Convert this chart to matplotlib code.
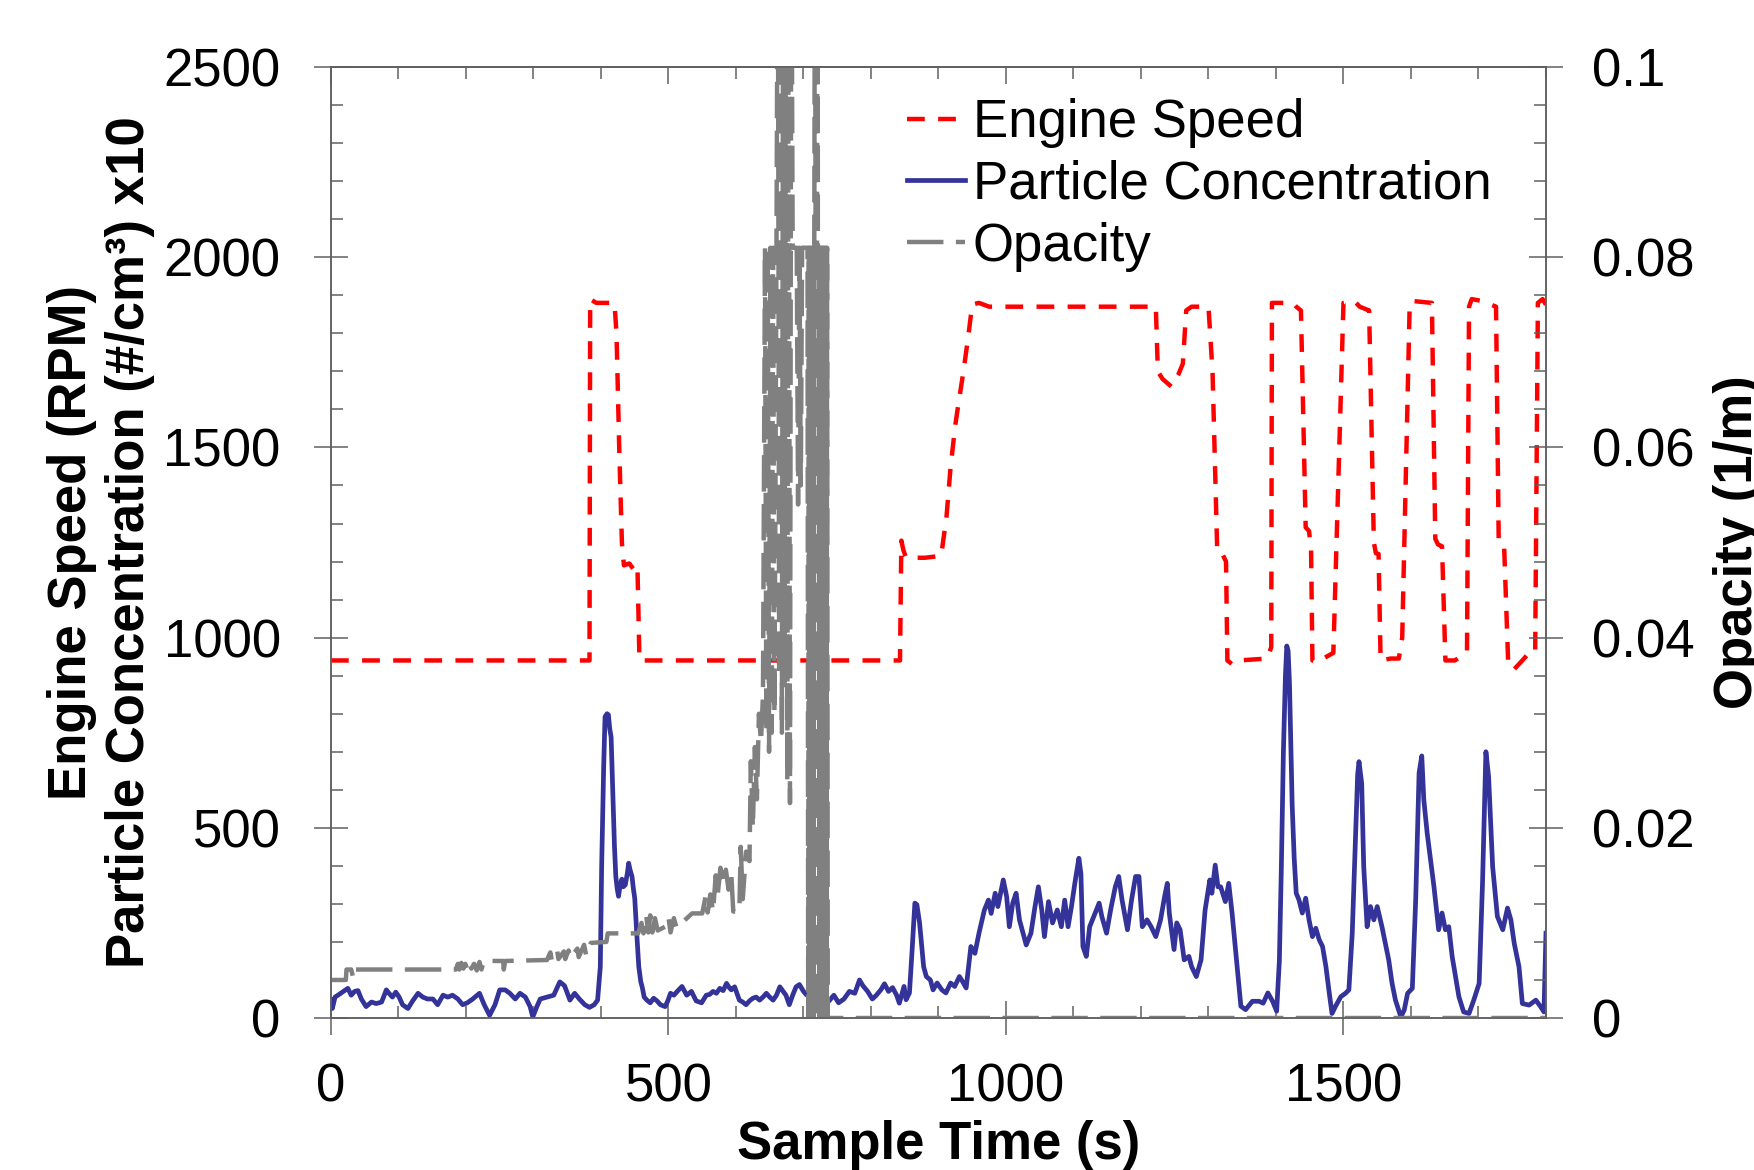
import matplotlib
matplotlib.use("Agg")
import matplotlib.pyplot as plt
from matplotlib.ticker import MultipleLocator, FuncFormatter

plt.rcParams['font.family'] = ['Liberation Sans', 'DejaVu Sans']
plt.rcParams['font.size'] = 38

# Engine speed (RPM)
rpm_t = [0, 383, 384, 393, 420, 423, 427, 431, 434, 442, 448, 454, 457, 843, 845, 848, 852,
         880, 904, 912, 918, 925, 930, 937, 944, 950, 960, 975, 1000, 1100, 1222, 1225, 1232,
         1245, 1255, 1262, 1267, 1275, 1300, 1306, 1313, 1320, 1326, 1328, 1335, 1345, 1387,
         1393, 1394, 1425, 1430, 1437, 1444, 1449, 1452, 1454, 1462, 1470, 1485, 1500, 1516,
         1524, 1538, 1545, 1548, 1552, 1555, 1570, 1582, 1587, 1598, 1602, 1631, 1636, 1640,
         1646, 1651, 1665, 1678, 1683, 1686, 1690, 1705, 1726, 1730, 1738, 1744, 1752, 1765,
         1775, 1784, 1788, 1795, 1800]
rpm_v = [940, 940, 1890, 1880, 1880, 1800, 1500, 1250, 1190, 1195, 1180, 1190, 940, 940, 1255, 1230, 1210,
         1210, 1215, 1320, 1450, 1560, 1620, 1700, 1790, 1876, 1880, 1870, 1870, 1870, 1870, 1700, 1680,
         1660, 1690, 1720, 1860, 1870, 1870, 1700, 1225, 1222, 1200, 940, 930, 940, 945,
         975, 1880, 1880, 1870, 1860, 1290, 1280, 1230, 940, 935, 945, 960, 1880, 1885,
         1870, 1860, 1250, 1222, 1220, 940, 945, 945, 1000, 1870, 1885, 1880, 1260, 1245,
         1240, 940, 940, 955, 960, 1870, 1890, 1885, 1870, 1250, 1240, 935, 915, 940,
         960, 960, 1880, 1890, 1875]

# Particle concentration (#/cm3, x10 on the left axis)
pc_t = [0, 2, 6, 12, 20, 25, 30, 35, 40, 45, 52, 60, 67, 75, 82, 86, 91, 96, 101, 106, 114, 121,
        129, 136, 143, 151, 158, 166, 173, 180, 188, 195, 202, 210, 220, 227, 235, 243, 250, 258,
        265, 273, 280, 288, 295, 299, 305, 310, 320, 330, 339, 346, 354, 361, 368, 376, 383, 390,
        395, 399, 401, 404, 406, 409, 411, 413, 415, 418, 420, 422, 424, 426, 428, 431, 433, 436,
        439, 441, 443, 446, 448, 450, 453, 456, 459, 461, 464, 468, 473, 478, 483, 488, 495, 499,
        503, 508, 513, 520, 527, 534, 541, 549, 556, 561, 566, 571, 576, 581, 586, 590, 593, 598,
        605, 610, 615, 620, 625, 630, 635, 640, 645, 650, 655, 660, 665, 670, 674, 679, 684, 689,
        694, 700, 705, 710, 715, 720, 725, 730, 738, 745, 752, 760, 768, 776, 783, 788, 795, 802,
        808, 815, 820, 826, 832, 838, 842, 849, 852, 857, 861, 865, 868, 872, 878, 882, 888, 892,
        898, 905, 911, 918, 924, 931, 936, 941, 948, 954, 960, 968, 974, 978, 984, 988, 996, 1001,
        1005, 1010, 1015, 1020, 1030, 1037, 1043, 1048, 1053, 1057, 1063, 1069, 1076, 1082, 1087,
        1092, 1097, 1102, 1108, 1111, 1114, 1119, 1124, 1132, 1138, 1142, 1149, 1155, 1162, 1167,
        1172, 1180, 1186, 1192, 1197, 1202, 1209, 1215, 1222, 1229, 1235, 1239, 1242, 1249, 1253,
        1258, 1264, 1271, 1275, 1282, 1289, 1295, 1302, 1305, 1310, 1314, 1318, 1325, 1330, 1335,
        1342, 1348, 1355, 1365, 1375, 1381, 1388, 1395, 1401, 1405, 1408, 1411, 1414, 1416, 1418,
        1420, 1422, 1424, 1427, 1430, 1434, 1439, 1444, 1449, 1454, 1459, 1464, 1469, 1474, 1479,
        1483, 1488, 1496, 1503, 1508, 1513, 1518, 1521, 1523, 1527, 1530, 1535, 1540, 1545, 1550,
        1557, 1562, 1567, 1572, 1577, 1585, 1590, 1595, 1602, 1607, 1612, 1616, 1619, 1624, 1629,
        1634, 1641, 1646, 1651, 1656, 1661, 1666, 1671, 1678, 1686, 1693, 1701, 1706, 1711, 1715,
        1721, 1728, 1736, 1743, 1748, 1753, 1760, 1765, 1775, 1785, 1792, 1797, 1800]
pc_v = [47, 25, 55, 62, 72, 78, 60, 70, 72, 50, 30, 42, 38, 42, 74, 65, 55, 68, 55, 35, 25, 45,
        65, 55, 50, 50, 35, 60, 55, 60, 50, 35, 40, 50, 65, 35, 7, 35, 74, 74,
        65, 50, 65, 55, 30, 3, 30, 50, 55, 60, 95, 85, 47, 65, 50, 35, 28, 35,
        47, 135, 398, 661, 792, 800, 797, 760, 739, 560, 450, 372, 340, 320, 345, 365, 345, 350,
        380, 407, 390, 372, 340, 315, 222, 135, 95, 82, 55, 47, 40, 52, 45, 35, 30, 45,
        65, 60, 70, 83, 60, 70, 45, 40, 60, 62, 70, 65, 78, 72, 91, 80, 74, 82,
        47, 42, 35, 45, 52, 55, 47, 55, 65, 55, 47, 60, 82, 70, 60, 35, 60, 82,
        88, 70, 60, 75, 80, 60, 70, 55, 45, 60, 40, 50, 70, 65, 100, 85, 70, 50,
        60, 75, 90, 70, 80, 60, 39, 83, 48, 66, 180, 302, 298, 250, 135, 109, 100, 74,
        92, 74, 66, 92, 83, 109, 95, 79, 188, 170, 223, 284, 310, 275, 328, 293, 363, 319,
        240, 302, 328, 258, 192, 223, 293, 345, 284, 214, 306, 250, 284, 240, 310,
        240, 293, 354, 420, 380, 188, 162, 240, 275, 302, 267, 223, 284, 345, 372,
        310, 232, 310, 372, 372, 240, 258, 240, 214, 258, 319, 354, 275, 180, 250,
        232, 153, 162, 135, 109, 153, 284, 363, 328, 402, 345, 345, 306, 354, 275,
        144, 31, 22, 44, 44, 39, 66, 44, 18, 150, 400, 700, 900, 978, 965,
        880, 720, 560, 420, 328, 311, 276, 315, 258, 214, 236, 206, 188, 135, 65,
        12, 30, 56, 65, 74, 223, 486, 640, 674, 617, 398, 240, 293, 258, 293,
        240, 196, 153, 91, 47, 3, 21, 65, 78, 311, 644, 689, 574, 486, 416,
        346, 232, 276, 232, 240, 162, 109, 56, 16, 12, 47, 91, 355, 700, 635,
        398, 267, 232, 289, 258, 196, 135, 38, 34, 47, 30, 16, 223]

# Opacity (1/m), right axis
op_t = [0, 22, 23, 30, 33, 35, 185, 188, 190, 193, 196, 199, 202, 205, 208, 212, 216, 220, 223,
        226, 230, 255, 256, 258, 320, 325, 327, 335, 337, 345, 347, 352, 355, 365, 367, 375, 378,
        385, 408, 410, 455, 460, 463, 467, 470, 473, 476, 480, 484, 495, 500, 503, 508, 512, 535,
        550, 555, 558, 562, 566, 570, 573, 577, 581, 585, 589, 593, 596, 605, 607, 610, 615, 620,
        622, 625, 628, 631, 634, 637, 640, 643, 645, 647, 649, 651, 653, 655, 657, 660, 662, 664,
        666, 668, 670, 672, 674, 676, 678, 680, 682, 684, 690, 692, 694, 696, 698, 706, 707, 708,
        709, 710, 711, 712, 713, 714, 715, 716, 717, 718, 719, 720, 721, 722, 723, 724, 725, 726,
        727, 728, 729, 730, 731, 732, 733, 734, 735, 736, 1800]
op_v = [.0040, .0040, .0051, .0051, .0042, .0051, .0051, .0057, .0051, .0058, .0052, .0057, .0051,
        .0058, .0052, .0057, .0050, .0059, .0051, .0059, .0060, .0060, .0051, .0060, .0061, .0069,
        .0061, .0071, .0062, .0070, .0062, .0071, .0063, .0073, .0064, .0077, .0066, .0079, .0080,
        .0089, .0089, .0100, .0089, .0108, .0090, .0108, .0090, .0105, .0092, .0096, .0106, .0090,
        .0105, .0095, .0110, .0110, .0128, .0111, .0130, .0112, .0150, .0130, .0158, .0140, .0156,
        .0135, .0152, .0112, .0112, .0180, .0125, .0175, .0165, .0270, .0200, .0285, .0230, .0320,
        .0290, .0340, .0810, .0300, .0810, .0280, .0810, .0300, .0810, .0320, .0810, .1200, .0360,
        .1200, .0300, .1200, .0350, .1200, .0250, .1200, .0226, .1200, .0810, .0810, .0540, .0810,
        .0560, .0810, .0810, 0, .081, 0, .081, 0, .081, 0, .081, 0, .081, .1200, .081, 0, .081,
        .1200, 0, .081, 0, .081, 0, .081, 0, .081, 0, .081, 0, .081, 0, .081, 0, 0]

tick_grey = '#606060'

fig = plt.figure(figsize=(17.54, 11.7), dpi=100)
ax = fig.add_axes([0.1887, 0.1299, 0.6927, 0.8128])

ax.plot(rpm_t, rpm_v, color='#ff0000', lw=3.2, dashes=(4, 3), label='Engine Speed')
ax.plot(pc_t, pc_v, color='#333399', lw=3.4, label='Particle Concentration')

ax2 = ax.twinx()
ax2.plot(op_t, op_v, color='#808080', lw=3.2, dashes=(8.2, 2.8), label='Opacity')

ax.set_xlim(0, 1800)
ax.set_ylim(0, 2500)
ax2.set_ylim(0, 0.1)

ax.xaxis.set_major_locator(MultipleLocator(500))
ax.xaxis.set_minor_locator(MultipleLocator(100))
ax.yaxis.set_major_locator(MultipleLocator(500))
ax.yaxis.set_minor_locator(MultipleLocator(100))
ax2.yaxis.set_major_locator(MultipleLocator(0.02))
ax2.yaxis.set_minor_locator(MultipleLocator(0.004))
ax2.yaxis.set_major_formatter(FuncFormatter(lambda v, p: f'{v:g}'))

for a in (ax, ax2):
    for s in a.spines.values():
        s.set_color(tick_grey)
        s.set_linewidth(1.1)

ax.tick_params(which='major', direction='inout', length=24.5, width=1.1, color=tick_grey, labelsize=38)
ax.tick_params(which='minor', direction='in', length=8.6, width=1.1, color=tick_grey)
ax.tick_params(axis='x', pad=20)
ax.tick_params(axis='y', pad=24)
ax.tick_params(which='both', right=False, top=False)
ax2.tick_params(which='major', direction='inout', length=24.5, width=1.1, color=tick_grey,
                labelsize=38, pad=21)
ax2.tick_params(which='minor', direction='in', length=8.6, width=1.1, color=tick_grey)

top = ax.secondary_xaxis('top')
top.xaxis.set_major_locator(MultipleLocator(500))
top.xaxis.set_minor_locator(MultipleLocator(100))
top.tick_params(which='major', direction='in', length=12.5, width=1.1, color=tick_grey, labeltop=False)
top.tick_params(which='minor', direction='in', length=8.6, width=1.1, color=tick_grey)
top.spines['top'].set_color(tick_grey)
top.spines['top'].set_linewidth(1.1)

ax.set_xlabel('Sample Time (s)', fontweight='bold', fontsize=38, va='top')
ax.xaxis.set_label_coords(0.5, -0.107)
ax.set_ylabel('Engine Speed (RPM)\nParticle Concentration (#/cm³) x10', fontweight='bold',
              fontsize=38, va='center', ha='center', linespacing=1.2)
ax.yaxis.set_label_coords(-0.189, 0.5)
ax2.set_ylabel('Opacity (1/m)', fontweight='bold', fontsize=38, rotation=90, va='center', ha='center')
ax2.yaxis.set_label_coords(1.158, 0.5)

h1, l1 = ax.get_legend_handles_labels()
h2, l2 = ax2.get_legend_handles_labels()
ax2.legend(h1 + h2, l1 + l2, loc='upper left', bbox_to_anchor=(907 / 1754, 0.916),
           bbox_transform=fig.transFigure, frameon=False, handlelength=1.1, handletextpad=0.15,
           labelspacing=0.22, borderpad=0, borderaxespad=0, fontsize=38)

fig.savefig('out.png', dpi=100)
